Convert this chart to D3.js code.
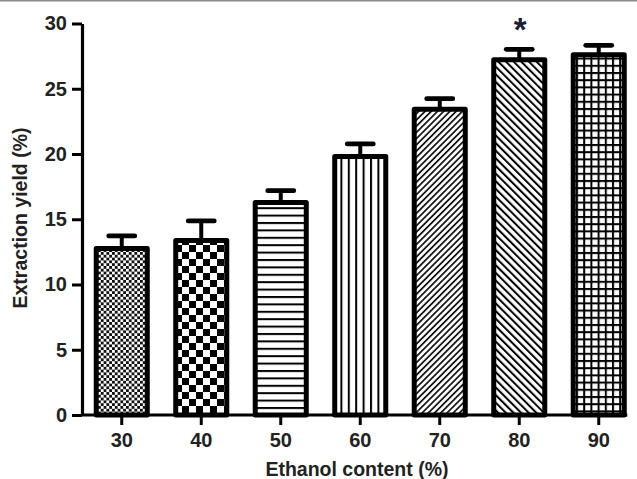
<!DOCTYPE html>
<html>
<head>
<meta charset="utf-8">
<script src="https://cdn.jsdelivr.net/npm/d3@7"></script>
<style>
  body { margin: 0; background: #fff; }
  text { font-family: "Liberation Sans", Arial, sans-serif; font-weight: bold; }
</style>
</head>
<body>
<svg id="chart" width="637" height="479"></svg>
<script>
// data
var ethanol = ["30", "40", "50", "60", "70", "80", "90"];
var yieldMean = [12.76, 13.37, 16.28, 19.81, 23.43, 27.22, 27.60];
var yieldErr = [0.96, 1.50, 0.91, 0.96, 0.81, 0.80, 0.73];
var yTicks = [0, 5, 10, 15, 20, 25, 30];
var starred = ["80"];

var svg = d3.select("#chart");

// thin grey rule along the top edge
svg.append("line")
  .attr("x1", 0).attr("x2", 637).attr("y1", 0.75).attr("y2", 0.75)
  .attr("stroke", "#8a8a8a").attr("stroke-width", 1.5);

var y = d3.scaleLinear().domain([0, 30]).range([415, 23.5]);
var x = d3.scaleBand().domain(ethanol)
  .range([82, 638.5])
  .paddingInner(0.358)
  .paddingOuter(0.179);

// hatch patterns, one per bar
var defs = svg.append("defs");

function pat(id, size, rot) {
  var p = defs.append("pattern").attr("id", id)
    .attr("patternUnits", "userSpaceOnUse")
    .attr("width", size).attr("height", size);
  if (rot) p.attr("patternTransform", "rotate(" + rot + ")");
  p.append("rect").attr("width", size).attr("height", size).attr("fill", "#fff");
  return p;
}

var p0 = pat("p0", 5.6);
p0.append("rect").attr("width", 2.8).attr("height", 2.8).attr("fill", "#111");
p0.append("rect").attr("x", 2.8).attr("y", 2.8).attr("width", 2.8).attr("height", 2.8).attr("fill", "#111");

var p1 = pat("p1", 14);
p1.append("rect").attr("width", 7).attr("height", 7).attr("fill", "#000");
p1.append("rect").attr("x", 7).attr("y", 7).attr("width", 7).attr("height", 7).attr("fill", "#000");

var p2 = pat("p2", 7.4);
p2.append("rect").attr("y", 0).attr("width", 7.4).attr("height", 2).attr("fill", "#000");

var p3 = pat("p3", 7.4);
p3.append("rect").attr("x", 0).attr("width", 2).attr("height", 7.4).attr("fill", "#000");

var p4 = pat("p4", 4.4, 45);
p4.append("rect").attr("width", 1.7).attr("height", 4.4).attr("fill", "#111");

var p5 = pat("p5", 5.4, -45);
p5.append("rect").attr("width", 2).attr("height", 5.4).attr("fill", "#000");

var p6 = pat("p6", 7.2);
p6.append("rect").attr("width", 7.2).attr("height", 2).attr("fill", "#000");
p6.append("rect").attr("width", 2).attr("height", 7.2).attr("fill", "#000");

var rows = ethanol.map(function(c, i) {
  return { cat: c, v: yieldMean[i], e: yieldErr[i], pid: "p" + i };
});

// error bars
var eb = svg.append("g").selectAll("g").data(rows).enter().append("g");
eb.append("line")
  .attr("x1", function(d) { return x(d.cat) + x.bandwidth() / 2; })
  .attr("x2", function(d) { return x(d.cat) + x.bandwidth() / 2; })
  .attr("y1", function(d) { return y(d.v); })
  .attr("y2", function(d) { return y(d.v + d.e); })
  .attr("stroke", "#000").attr("stroke-width", 4);
eb.append("line")
  .attr("x1", function(d) { return x(d.cat) + x.bandwidth() / 2 - 13; })
  .attr("x2", function(d) { return x(d.cat) + x.bandwidth() / 2 + 13; })
  .attr("y1", function(d) { return y(d.v + d.e); })
  .attr("y2", function(d) { return y(d.v + d.e); })
  .attr("stroke", "#000").attr("stroke-width", 4.8)
  .attr("stroke-linecap", "round");

// bars
svg.append("g").selectAll("rect").data(rows).enter().append("rect")
  .attr("x", function(d) { return x(d.cat); })
  .attr("y", function(d) { return y(d.v); })
  .attr("width", x.bandwidth())
  .attr("height", function(d) { return y(0) - y(d.v); })
  .attr("fill", function(d) { return "url(#" + d.pid + ")"; })
  .attr("stroke", "#000")
  .attr("stroke-width", 5)
  .attr("stroke-linejoin", "round");

// significance mark
svg.append("g").selectAll("text").data(rows.filter(function(d) { return starred.indexOf(d.cat) >= 0; }))
  .enter().append("text")
  .attr("x", function(d) { return x(d.cat) + x.bandwidth() / 2 + 1; })
  .attr("y", 41)
  .attr("text-anchor", "middle")
  .attr("font-size", 33)
  .attr("fill", "#1c1c36")
  .text("*");

// axes
var yAxis = svg.append("g")
  .attr("transform", "translate(82,0)")
  .call(d3.axisLeft(y).tickValues(yTicks).tickSize(10).tickSizeOuter(0).tickPadding(5));

var xAxis = svg.append("g")
  .attr("transform", "translate(0," + y(0) + ")")
  .call(d3.axisBottom(x).tickSize(10).tickSizeOuter(0).tickPadding(8));
xAxis.select(".domain")
  .attr("d", "M" + x.range()[0] + ",0H" + (x(ethanol[ethanol.length - 1]) + x.bandwidth() + 3));

[yAxis, xAxis].forEach(function(g) {
  g.attr("font-family", null).attr("font-size", null);
  g.selectAll(".domain").attr("stroke", "#000").attr("stroke-width", 3.2);
  g.selectAll(".tick line").attr("stroke", "#000").attr("stroke-width", 3);
  g.selectAll(".tick text").attr("fill", "#222").style("font-size", "20px");
});

// axis titles
svg.append("text")
  .attr("x", 357).attr("y", 476)
  .attr("text-anchor", "middle")
  .attr("font-size", 19.5).attr("fill", "#222")
  .text("Ethanol content (%)");

svg.append("text")
  .attr("transform", "translate(20,218) rotate(-90)")
  .attr("dy", "0.35em")
  .attr("text-anchor", "middle")
  .attr("font-size", 19.5).attr("fill", "#222")
  .text("Extraction yield (%)");
</script>
</body>
</html>
